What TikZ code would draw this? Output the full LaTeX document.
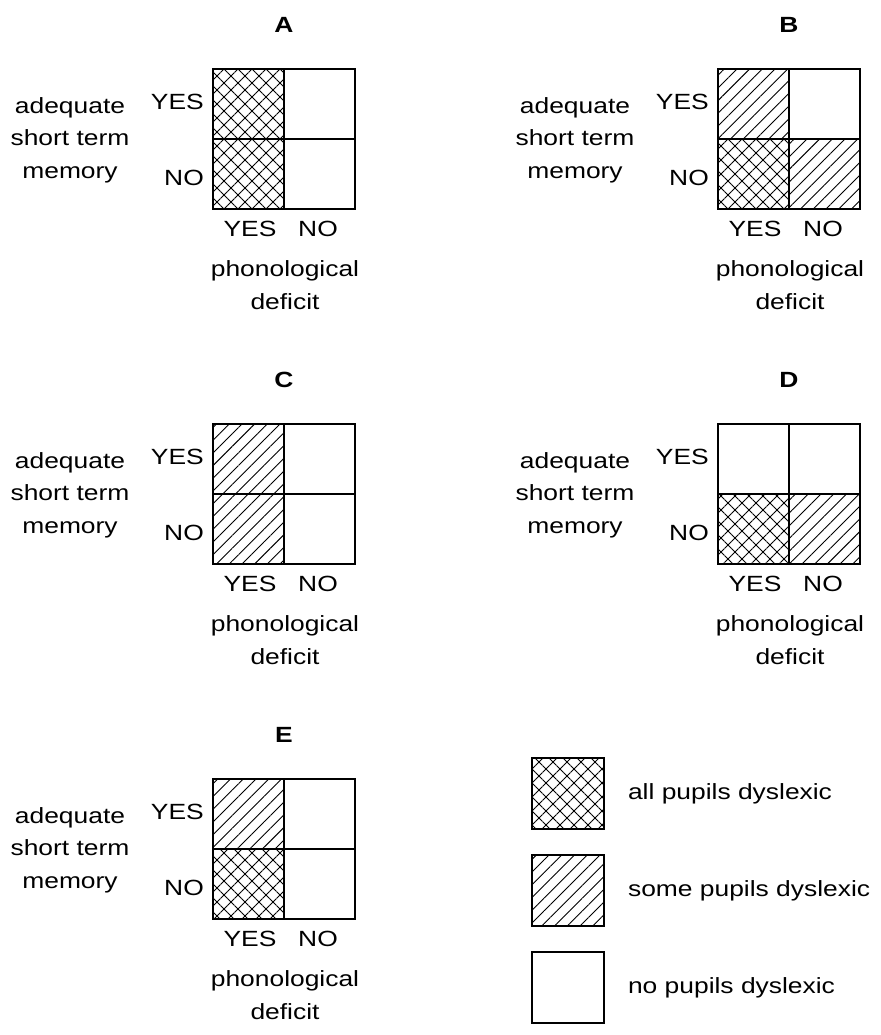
\documentclass[tikz,border=0pt]{standalone}
\usepackage{fontspec}
\setmainfont[FakeStretch=1.2]{Liberation Sans}
\usetikzlibrary{patterns.meta,positioning}

\tikzset{
  grid/.style={line width=1.7pt},
  allbox/.style={pattern={Hatch[angle=45,distance=9.9pt,line width=0.9pt]}},
  somebox/.style={pattern={Lines[angle=45,distance=9pt,line width=0.9pt]}},
  nobox/.style={},
  lbl/.style={font=\fontsize{22}{32.5}\selectfont, inner sep=0pt},
  ttl/.style={font=\fontsize{22}{26}\selectfont\bfseries, inner sep=0pt},
}

\begin{document}
\begin{tikzpicture}[x=1pt,y=-1pt]
\useasboundingbox (0,0) rectangle (880,1035);

% Panels: name / left / top / cells (top-left, top-right, bottom-left, bottom-right)
\foreach \p/\x/\y/\tl/\tr/\bl/\br in {
    A/213/69/allbox/nobox/allbox/nobox,
    B/718/69/somebox/nobox/allbox/somebox,
    C/213/424/somebox/nobox/somebox/nobox,
    D/718/424/nobox/nobox/allbox/somebox,
    E/213/779/somebox/nobox/allbox/nobox} {

    % the four cells
    \draw[grid, \tl] (\x,\y) rectangle ++(71,70);
    \draw[grid, \tr] (\x+71,\y) rectangle ++(71,70);
    \draw[grid, \bl] (\x,\y+70) rectangle ++(71,70);
    \draw[grid, \br] (\x+71,\y+70) rectangle ++(71,70);

    % labels
    \node[ttl] (title-\p) at (\x+71,\y-44) {\p};
    \node[lbl, anchor=east] (yes-\p) at (\x-9,\y+33) {YES};
    \node[lbl, anchor=east] (no-\p) at (\x-9,\y+109) {NO};
    \node[lbl, align=center] (stm-\p) at (\x-143,\y+71) {adequate\\short term\\memory};
    \node[lbl] (colyes-\p) at (\x+37,\y+160) {YES};
    \node[lbl] (colno-\p) at (\x+105,\y+160) {NO};
    \node[lbl, align=center] (pd-\p) at (\x+72,\y+216) {phonological\\deficit};
}

% Key
\node[draw, grid, allbox, minimum width=72pt, minimum height=71pt] (box-all) at (568,793.5) {};
\node[draw, grid, somebox, minimum width=72pt, minimum height=71pt] (box-some) at (568,890.5) {};
\node[draw, grid, nobox, minimum width=72pt, minimum height=71pt] (box-no) at (568,987.5) {};

\node[lbl, right=23pt of box-all] (key-all) {all pupils dyslexic};
\node[lbl, right=23pt of box-some] (key-some) {some pupils dyslexic};
\node[lbl, right=23pt of box-no] (key-no) {no pupils dyslexic};

\end{tikzpicture}
\end{document}
